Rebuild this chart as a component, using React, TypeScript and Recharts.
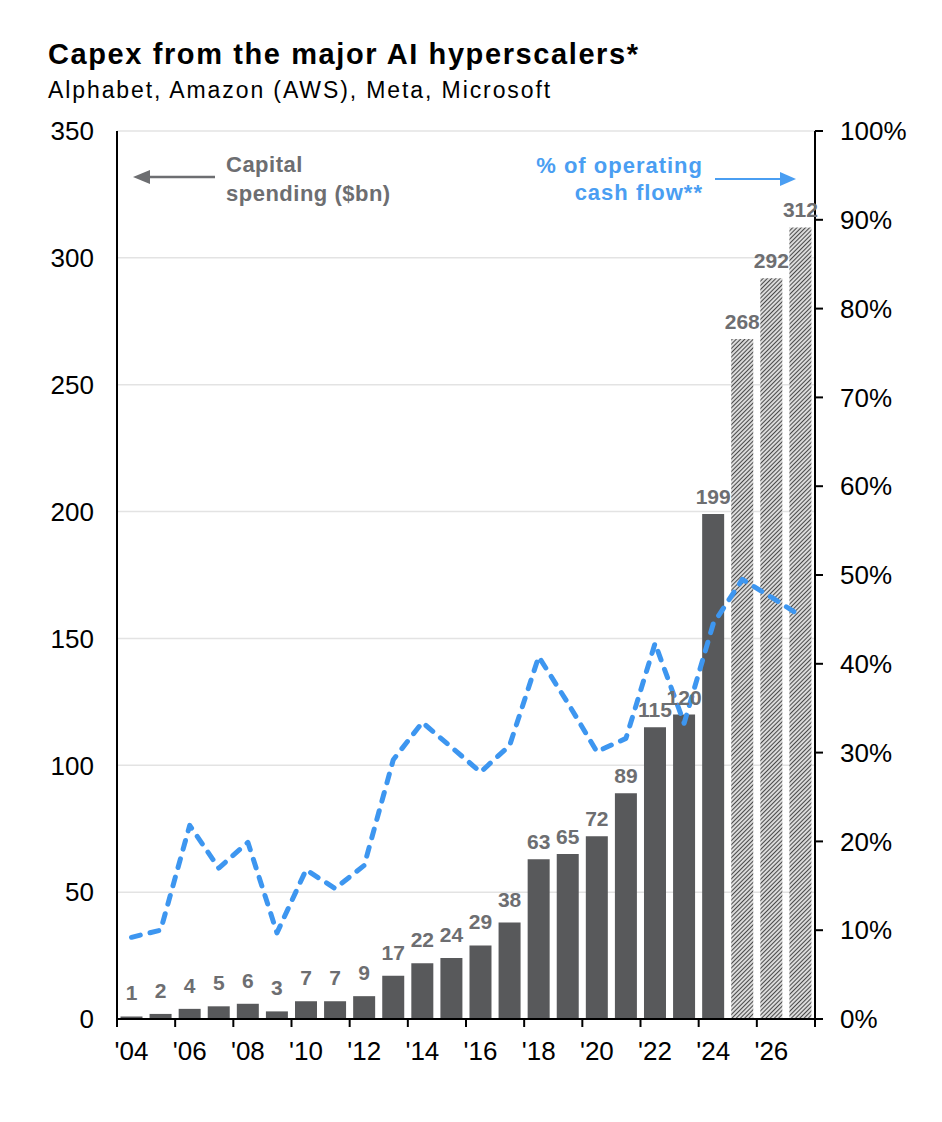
import React from "react";
import { ComposedChart, Bar, Line, XAxis, YAxis, CartesianGrid, Cell, LabelList } from "recharts";

// Capex of Alphabet, Amazon (AWS), Meta, Microsoft; 2025-27 are estimates
const years = [
  2004, 2005, 2006, 2007, 2008, 2009, 2010, 2011, 2012, 2013, 2014, 2015,
  2016, 2017, 2018, 2019, 2020, 2021, 2022, 2023, 2024, 2025, 2026, 2027,
];
const capex = [1, 2, 4, 5, 6, 3, 7, 7, 9, 17, 22, 24, 29, 38, 63, 65, 72, 89, 115, 120, 199, 268, 292, 312];
// capex as a share of operating cash flow
const ocfShare = [
  0.092, 0.1, 0.218, 0.17, 0.199, 0.097, 0.168, 0.147, 0.173, 0.292, 0.334, 0.306,
  0.278, 0.308, 0.408, 0.356, 0.301, 0.316, 0.423, 0.333, 0.445, 0.495, 0.475, 0.454,
];
const estimateYears = [2025, 2026, 2027];
const leftTicks = [0, 50, 100, 150, 200, 250, 300, 350];
const rightTicks = [0, 0.1, 0.2, 0.3, 0.4, 0.5, 0.6, 0.7, 0.8, 0.9, 1];

const data = years.map((year, i) => ({
  year,
  capex: capex[i],
  share: ocfShare[i],
  estimate: estimateYears.includes(year),
}));

const FONT = "'Liberation Sans', Arial, sans-serif";
const BAR_GREY = "#58595b";
const LABEL_GREY = "#6d6e71";
const BLUE = "#3d96f0";
const TEXT_BLUE = "#4a9ef2";

function YearTick(props: any) {
  const { x, y, payload, index } = props;
  const half = payload && payload.offset ? payload.offset : 14.5;
  const even = index % 2 === 0;
  const last = index === years.length - 1;
  return (
    <g>
      {even && <line x1={x - half} x2={x - half} y1={y} y2={y + 8} stroke="#000" strokeWidth={2} />}
      {last && <line x1={x + half} x2={x + half} y1={y} y2={y + 8} stroke="#000" strokeWidth={2} />}
      {even && (
        <text x={x} y={y + 41} textAnchor="middle" fontSize={26} fill="#000" fontFamily={FONT}>
          {"'" + String(payload.value).slice(2)}
        </text>
      )}
    </g>
  );
}

function ValueLabel(props: any) {
  const { x, y, width, value } = props;
  const gap = value < 40 ? 16 : 10;
  return (
    <text
      x={x + width / 2}
      y={y - gap}
      textAnchor="middle"
      fontSize={21}
      fontWeight="bold"
      fill={LABEL_GREY}
      fontFamily={FONT}
    >
      {value}
    </text>
  );
}

export default function App() {
  return (
    <div style={{ position: "absolute", left: 0, top: 0, width: 942, height: 1122, background: "#fff" }}>
      <ComposedChart
        width={942}
        height={1122}
        data={data}
        margin={{ top: 131, right: 0, bottom: 43, left: 0 }}
        barCategoryGap="12%"
      >
        <defs>
          <pattern id="hatch" patternUnits="userSpaceOnUse" width="3" height="3" patternTransform="rotate(45)">
            <rect width="3" height="3" fill="#fff" />
            <line x1="1.5" y1="0" x2="1.5" y2="3" stroke="#4a4a4a" strokeWidth="1.4" />
          </pattern>
        </defs>
        <CartesianGrid vertical={false} yAxisId="left" stroke="#e3e3e3" strokeWidth={1.5} />
        <XAxis
          dataKey="year"
          height={60}
          interval={0}
          tickLine={false}
          tickSize={0}
          tickMargin={0}
          axisLine={{ stroke: "#000", strokeWidth: 2 }}
          tick={<YearTick />}
        />
        <YAxis
          yAxisId="left"
          width={117}
          domain={[0, 350]}
          ticks={leftTicks}
          tickLine={false}
          tickSize={0}
          tickMargin={23}
          axisLine={{ stroke: "#000", strokeWidth: 2 }}
          tick={{ fontSize: 26, fill: "#000", fontFamily: FONT }}
        />
        <YAxis
          yAxisId="right"
          orientation="right"
          width={127}
          domain={[0, 1]}
          ticks={rightTicks}
          tickFormatter={(v: number) => `${Math.round(v * 100)}%`}
          tickSize={8}
          tickMargin={17}
          tickLine={{ stroke: "#000", strokeWidth: 2 }}
          axisLine={{ stroke: "#000", strokeWidth: 2 }}
          tick={{ fontSize: 26, fill: "#000", fontFamily: FONT }}
        />
        <Bar yAxisId="left" dataKey="capex" isAnimationActive={false}>
          {data.map((d) => (
            <Cell key={d.year} fill={d.estimate ? "url(#hatch)" : BAR_GREY} />
          ))}
          <LabelList dataKey="capex" content={<ValueLabel />} />
        </Bar>
        <Line
          yAxisId="right"
          type="linear"
          dataKey="share"
          stroke={BLUE}
          strokeWidth={5}
          strokeDasharray="9 10"
          strokeLinecap="round"
          strokeLinejoin="round"
          dot={false}
          activeDot={false}
          isAnimationActive={false}
        />
      </ComposedChart>

      <svg
        width={942}
        height={1122}
        style={{ position: "absolute", left: 0, top: 0, pointerEvents: "none" }}
      >
        <text x={48} y={64} fontSize={29} fontWeight="bold" fill="#000" fontFamily={FONT} letterSpacing={1.6}>
          Capex from the major AI hyperscalers*
        </text>
        <text x={48} y={98} fontSize={23} fill="#000" fontFamily={FONT} letterSpacing={1.9}>
          Alphabet, Amazon (AWS), Meta, Microsoft
        </text>

        <text x={226} y={172} fontSize={22} fontWeight="bold" fill={LABEL_GREY} fontFamily={FONT} letterSpacing={0.5}>
          Capital
        </text>
        <text x={226} y={201} fontSize={22} fontWeight="bold" fill={LABEL_GREY} fontFamily={FONT} letterSpacing={0.5}>
          spending ($bn)
        </text>
        <line x1={215} y1={177} x2={146} y2={177} stroke={LABEL_GREY} strokeWidth={2.5} />
        <polygon points="133,177 150,170 150,184" fill={LABEL_GREY} />

        <text x={703} y={173} textAnchor="end" fontSize={22} fontWeight="bold" fill={TEXT_BLUE} fontFamily={FONT} letterSpacing={1}>
          % of operating
        </text>
        <text x={703} y={200} textAnchor="end" fontSize={22} fontWeight="bold" fill={TEXT_BLUE} fontFamily={FONT} letterSpacing={1}>
          cash flow**
        </text>
        <line x1={715} y1={179} x2={784} y2={179} stroke={TEXT_BLUE} strokeWidth={2} />
        <polygon points="796,179 780,172 780,186" fill={TEXT_BLUE} />
      </svg>
    </div>
  );
}
